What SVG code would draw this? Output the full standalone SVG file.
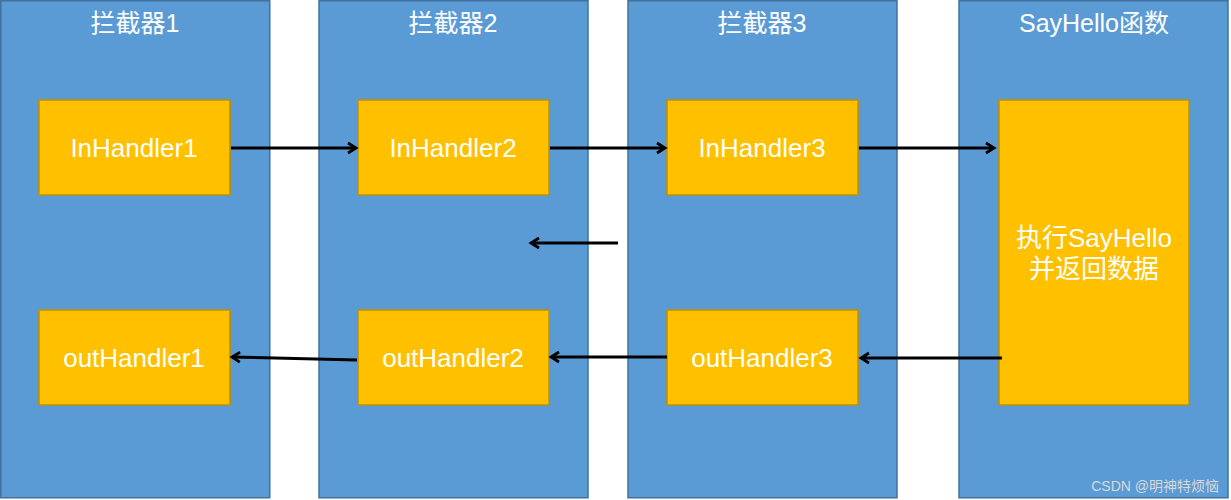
<svg xmlns="http://www.w3.org/2000/svg" width="1231" height="500" viewBox="0 0 1231 500">
<style>
.col{fill:#5B9BD5;stroke:#41719C;stroke-width:1.5}
.box{fill:#FFC000;stroke:#BF9000;stroke-width:1.5}
.t{font-family:"Helvetica","Liberation Sans","Noto Sans CJK SC",sans-serif;fill:#fff;text-anchor:middle}
.title{font-size:25px}
.lbl{font-size:26px}
.ln{stroke:#000;stroke-width:3;fill:none;marker-end:url(#ah)}
</style>
<defs>
<marker id="ah" markerWidth="14" markerHeight="14" refX="10" refY="7" orient="auto" markerUnits="userSpaceOnUse">
<path d="M2,2 L10,7 L2,12" fill="none" stroke="#000" stroke-width="2.8"/>
</marker>
</defs>
<rect width="1231" height="500" fill="#fff"/>
<g id="col1"><rect class="col" x="0.75" y="0.75" width="269" height="497"/><text class="t title" x="135" y="32">拦截器1</text></g>
<g id="col2"><rect class="col" x="319" y="0.75" width="269" height="497"/><text class="t title" x="453" y="32">拦截器2</text></g>
<g id="col3"><rect class="col" x="628" y="0.75" width="269" height="497"/><text class="t title" x="762" y="32">拦截器3</text></g>
<g id="col4"><rect class="col" x="959" y="0.75" width="269" height="497"/><text class="t title" x="1094" y="32">SayHello函数</text></g>
<g id="in1"><rect class="box" x="39" y="100" width="191" height="95"/><text class="t lbl" x="134" y="157">InHandler1</text></g>
<g id="in2"><rect class="box" x="358" y="100" width="191" height="95"/><text class="t lbl" x="453" y="157">InHandler2</text></g>
<g id="in3"><rect class="box" x="667" y="100" width="191" height="95"/><text class="t lbl" x="762" y="157">InHandler3</text></g>
<g id="out1"><rect class="box" x="39" y="310" width="191" height="95"/><text class="t lbl" x="134" y="367">outHandler1</text></g>
<g id="out2"><rect class="box" x="358" y="310" width="191" height="95"/><text class="t lbl" x="453" y="367">outHandler2</text></g>
<g id="out3"><rect class="box" x="667" y="310" width="191" height="95"/><text class="t lbl" x="762" y="367">outHandler3</text></g>
<g id="say"><rect class="box" x="999" y="100" width="190" height="305"/><text class="t lbl" x="1094" y="247">执行SayHello</text><text class="t lbl" x="1094" y="278">并返回数据</text></g>
<g id="connectors">
<line class="ln" x1="231" y1="148" x2="356" y2="148"/>
<line class="ln" x1="550" y1="148" x2="665" y2="148"/>
<line class="ln" x1="859" y1="148" x2="994" y2="148"/>
<line class="ln" x1="618" y1="243" x2="531" y2="243"/>
<line class="ln" x1="1002" y1="358" x2="861" y2="358"/>
<line class="ln" x1="667" y1="357" x2="551" y2="357"/>
<line class="ln" x1="357" y1="360" x2="232" y2="357"/>
</g>
<text x="1219" y="491" style="font-family:'Liberation Sans','Noto Sans CJK SC',sans-serif;font-size:14px;fill:#d8d8d8;text-anchor:end">CSDN @明神特烦恼</text>
</svg>
